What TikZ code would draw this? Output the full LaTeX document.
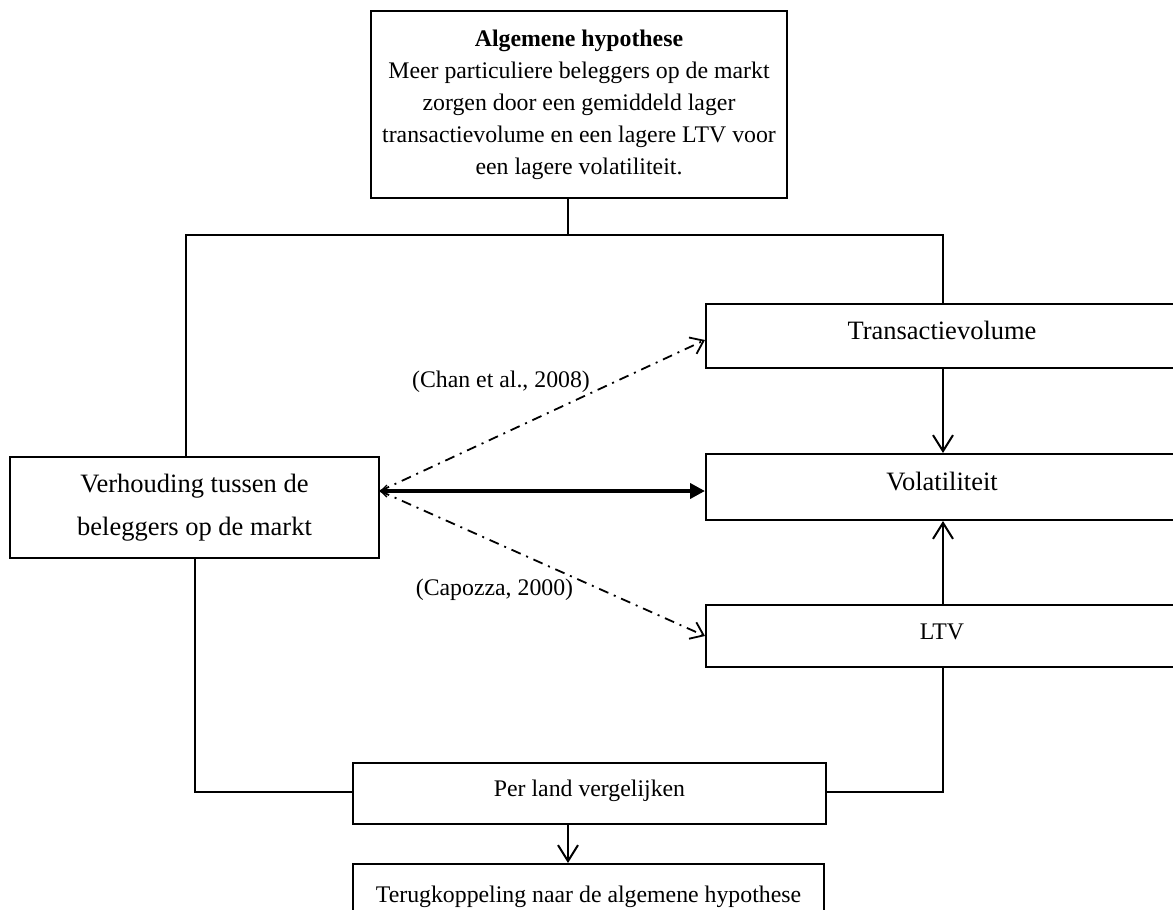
\documentclass[tikz,border=0pt]{standalone}
\usepackage{fontspec}
\setmainfont{Liberation Serif}
\usepackage{tikz}
\usetikzlibrary{arrows.meta}
\usetikzlibrary{calc}
\tikzset{>={Straight Barb[length=8pt,width=10pt]}}

\begin{document}
\begin{tikzpicture}[x=0.5pt,y=-0.5pt,
    box/.style={draw,line width=1pt,inner sep=0pt,align=center},
    lift/.style={text height=0.7em,text depth=0.4em},
    big/.style={font=\fontsize{13.25}{21.5}\selectfont},
    small/.style={font=\fontsize{11.9}{16}\selectfont},
    link/.style={line width=0.6pt},
    flow/.style={->,line width=1pt},
    cite/.style={-{Straight Barb[length=6pt,width=9pt]},line width=0.9pt,dash pattern=on 5pt off 3pt on 1pt off 3pt}]
    \useasboundingbox (0,0) rectangle (1173,910);
    \clip (0,0) rectangle (1173,910);

    \node[box,small,minimum width=208pt,minimum height=93.5pt] (hyp) at (579,104.5) {\textbf{Algemene hypothese}\\Meer particuliere beleggers op de markt\\zorgen door een gemiddeld lager\\transactievolume en een lagere LTV voor\\een lagere volatiliteit.};
    \node[box,big,minimum width=184.5pt,minimum height=50.5pt] (verh) at (194.5,507.5) {Verhouding tussen de\\beleggers op de markt};
    \node[box,big,lift,minimum width=236pt,minimum height=32pt] (trans) at (942,336) {Transactievolume};
    \node[box,big,lift,minimum width=236pt,minimum height=33pt] (vol) at (942,487) {Volatiliteit};
    \node[box,small,lift,minimum width=236pt,minimum height=31pt] (ltv) at (942,636) {LTV};
    \node[box,small,lift,minimum width=236.5pt,minimum height=30.5pt] (perland) at (589.5,793.5) {Per land vergelijken};
    \node[box,small,minimum width=235.5pt,minimum height=33pt] (terug) at (588.5,897) {Terugkoppeling naar de algemene hypothese};
    \node[small] (chan) at (501,382) {(Chan et al., 2008)};
    \node[small] (capo) at (494.5,590) {(Capozza, 2000)};

    \coordinate (split) at (568,235);
    \coordinate (jl) at (186,235);
    \coordinate (jr) at (943,235);
    \coordinate (bl) at (195,792);
    \coordinate (br) at (943,792);
    \coordinate (src) at (380,491);

    \draw[link] (hyp.south -| split) -- (split);
    \draw[link] (verh.north -| jl) -- (jl) -- (jr) -- (trans.north -| jr);
    \draw[link] (verh.south -| bl) -- (bl) -- (perland.west |- bl);
    \draw[link] (ltv.south -| br) -- (br) -- (perland.east |- br);
    \draw[flow] (trans.south -| jr) -- (vol.north -| jr);
    \draw[flow] (ltv.north -| jr) -- (vol.south -| jr);
    \draw[flow] (perland.south -| split) -- (terug.north -| split);
    \draw[line width=2pt,{Straight Barb[length=3pt,width=6pt,line width=0.7pt]}-{Triangle[length=7.5pt,width=7.5pt]}] (src) -- (vol.west |- src);
    \draw[cite] (src) -- ([yshift=-2pt]trans.west);
    \draw[cite] (src) -- (ltv.west);
\end{tikzpicture}
\end{document}
